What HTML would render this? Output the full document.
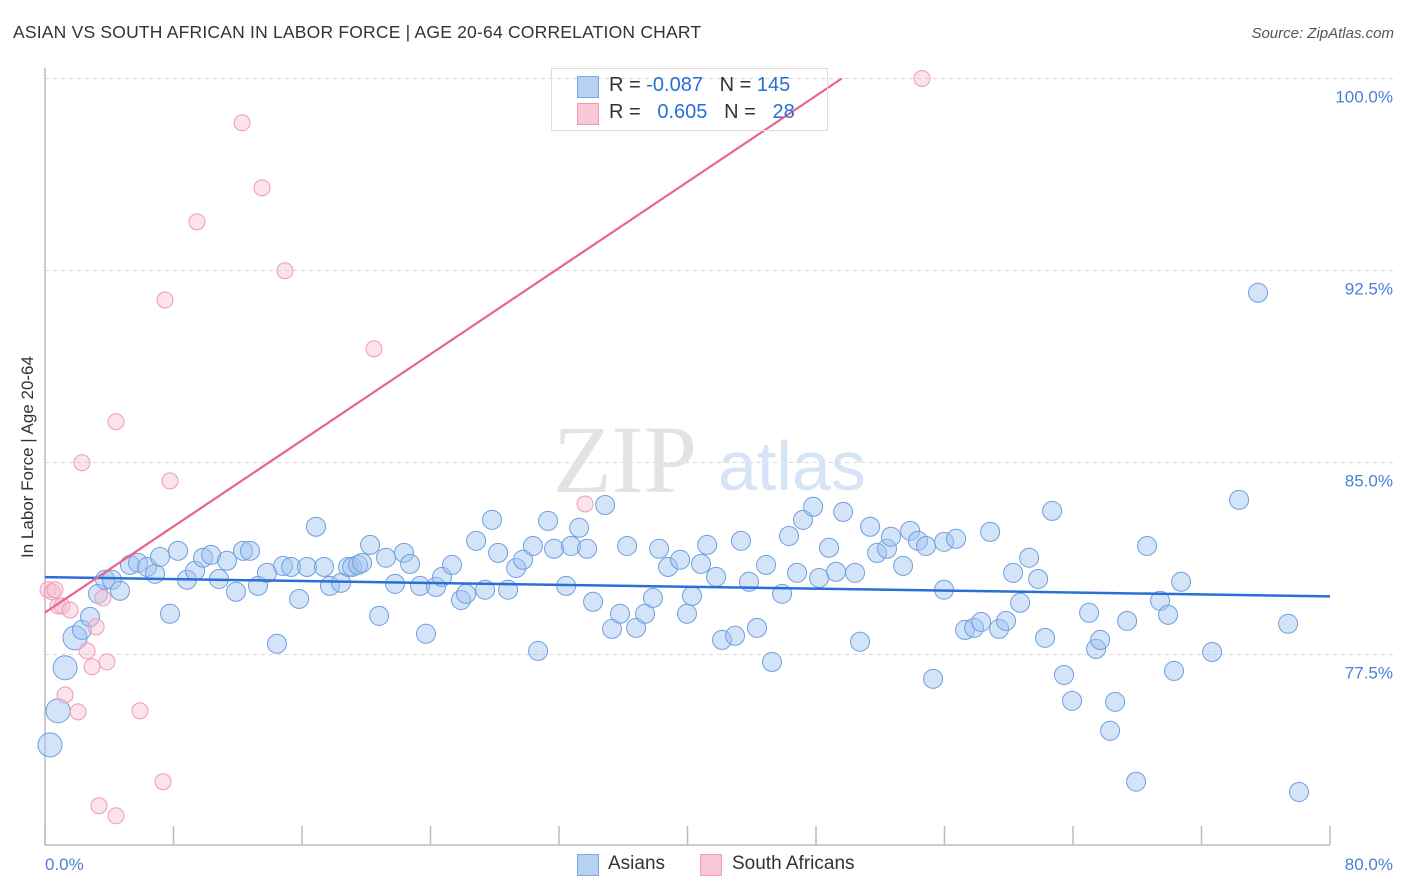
<!DOCTYPE html>
<html><head><meta charset="utf-8">
<style>
body{margin:0;background:#fff;font-family:"Liberation Sans",sans-serif;}
#wrap{position:relative;width:1406px;height:892px;overflow:hidden;}
.t{position:absolute;white-space:nowrap;}
</style></head>
<body>
<div id="wrap">
<div class="t" style="left:13px;top:22px;font-size:17.5px;color:#333;letter-spacing:0.2px">ASIAN VS SOUTH AFRICAN IN LABOR FORCE | AGE 20-64 CORRELATION CHART</div>
<div class="t" style="right:12px;top:25px;font-size:15px;color:#555;font-style:italic">Source: ZipAtlas.com</div>
<div class="t" style="left:28px;top:457px;font-size:17px;color:#333;transform:translate(-50%,-50%) rotate(-90deg)">In Labor Force | Age 20-64</div>
<svg id="chart" width="1406" height="892" style="position:absolute;left:0;top:0"></svg>
</div>
<script>
const xTicks=[0,8,16,24,32,40,48,56,64,72,80];
const yTicks=[77.5,85,92.5,100];
const yTickLabels=["77.5%","85.0%","92.5%","100.0%"];
const asianX=[0.31,0.81,1.25,1.87,2.30,2.80,3.30,3.74,4.17,4.67,5.29,5.79,6.35,6.85,7.16,7.78,8.28,8.84,9.34,9.84,10.34,10.83,11.33,11.89,12.33,12.76,13.26,13.82,14.44,14.82,15.32,15.82,16.31,16.87,17.37,17.74,18.43,18.87,19.12,19.49,19.74,20.24,20.80,21.23,21.79,22.35,22.73,23.35,23.72,24.34,24.72,25.34,25.90,26.21,26.84,27.40,27.83,28.21,28.83,29.33,29.76,30.38,30.70,31.32,31.69,32.44,32.75,33.25,33.75,34.12,34.87,35.30,35.80,36.24,36.80,37.36,37.85,38.23,38.79,39.54,39.97,40.28,40.84,41.22,41.78,42.15,42.96,43.33,43.83,44.33,44.89,45.26,45.89,46.32,46.82,47.19,47.82,48.19,48.81,49.25,49.69,50.43,50.74,51.37,51.80,52.42,52.67,53.42,53.86,54.35,54.85,55.29,55.97,55.97,56.72,57.28,57.84,58.28,58.84,59.40,59.83,60.27,60.71,61.27,61.83,62.26,62.70,63.44,63.94,65.00,65.44,65.69,66.31,66.62,67.37,67.93,68.61,69.42,69.92,70.29,70.73,72.66,74.34,75.52,77.39,78.07];
const asianY=[73.97,75.30,76.98,78.15,78.46,78.97,79.87,80.42,80.42,79.99,81.00,81.08,80.92,80.65,81.31,79.09,81.55,80.42,80.77,81.28,81.39,80.45,81.16,79.95,81.55,81.55,80.18,80.69,77.92,80.96,80.92,79.67,80.92,82.49,80.92,80.18,80.30,80.92,80.92,81.00,81.08,81.78,79.01,81.28,80.26,81.47,81.04,80.18,78.31,80.14,80.53,81.00,79.63,79.87,81.94,80.03,82.76,81.47,80.03,80.88,81.20,81.74,77.64,82.72,81.63,80.18,81.74,82.45,81.63,79.56,83.34,78.50,79.09,81.74,78.54,79.09,79.71,81.63,80.92,81.20,79.09,79.79,81.04,81.78,80.53,78.07,78.23,81.94,80.34,78.54,81.00,77.21,79.87,82.13,80.69,82.76,83.27,80.49,81.67,80.73,83.07,80.69,78.00,82.49,81.47,81.63,82.10,80.96,82.33,81.94,81.74,76.55,80.03,81.90,82.02,78.46,78.54,78.77,82.29,78.50,78.81,80.69,79.52,81.28,80.45,78.15,83.11,76.70,75.69,79.13,77.72,78.07,74.52,75.65,78.81,72.53,81.74,79.60,79.05,76.86,80.34,77.60,83.54,91.63,78.70,72.13];
const safX=[0.19,0.44,0.62,0.81,1.06,1.56,2.30,2.62,2.93,3.18,3.61,3.86,1.25,2.06,3.36,4.42,4.42,5.91,7.35,7.47,7.78,9.46,12.27,13.51,14.94,20.48,33.62,54.60];
const safY=[80.03,79.95,80.03,79.40,79.40,79.24,84.99,77.64,77.02,78.58,79.71,77.21,75.92,75.26,71.59,71.20,86.59,75.30,72.53,91.35,84.28,94.40,98.27,95.73,92.49,89.44,83.38,100.0];

const X0=45,X1=1330,YTOP=78.5;
const sx=v=>X0+(v-0)/(80-0)*(X1-X0);
const sy=v=>YTOP+(100-v)*25.6;
const svg=document.getElementById('chart');
const NS='http://www.w3.org/2000/svg';
function mk(tag,attrs,parent){const e=document.createElementNS(NS,tag);for(const k in attrs)e.setAttribute(k,attrs[k]);(parent||svg).appendChild(e);return e;}

yTicks.forEach((t,i)=>{
  const g=mk('line',{x1:X0,x2:1393,y1:sy(t),y2:sy(t),stroke:'#d8d8d8','stroke-dasharray':'4,4','stroke-width':1});
  
  
  const tx=mk('text',{x:1393,y:sy(t)+24,'text-anchor':'end','font-size':17,fill:'#4a7fd4','font-family':'Liberation Sans, sans-serif'});
  tx.textContent=yTickLabels[i];
  
  
});
const ax=mk('line',{x1:X0,x2:X0,y1:68,y2:845,stroke:'#bbb','stroke-width':1.5});


const bx=mk('line',{x1:X0,x2:X1,y1:845,y2:845,stroke:'#bbb','stroke-width':1.5});


xTicks.forEach(t=>{
  const l=mk('line',{x1:sx(t),x2:sx(t),y1:826,y2:845,stroke:'#bbb','stroke-width':1.5});
  
  
});
const xl0=mk('text',{x:45,y:870,'font-size':17,fill:'#4a7fd4','font-family':'Liberation Sans, sans-serif'});xl0.textContent='0.0%';


const xl1=mk('text',{x:1393,y:870,'text-anchor':'end','font-size':17,fill:'#4a7fd4','font-family':'Liberation Sans, sans-serif'});xl1.textContent='80.0%';



const wm=mk('text',{x:553,y:492,'font-size':96,fill:'#e3e3e3','font-family':'Liberation Serif, serif'});wm.textContent='ZIP';


const wm2=mk('text',{x:718,y:490,'font-size':70,fill:'#d6e4f5','font-family':'Liberation Sans, sans-serif'});wm2.textContent='atlas';



asianX.forEach((x,i)=>{
  const r=x<2?12:9.5;
  const c=mk('circle',{cx:sx(x),cy:sy(asianY[i]),r:r,fill:'rgba(160,196,240,0.45)',stroke:'#6e9fe0','stroke-width':1});
  
  
});
safX.forEach((x,i)=>{
  const c=mk('circle',{cx:sx(x),cy:sy(safY[i]),r:8,fill:'rgba(248,190,208,0.45)',stroke:'#f09ab6','stroke-width':1});
  
  
});

function fit(xs,ys){const n=xs.length;let mx=0,my=0;xs.forEach((v,i)=>{mx+=v;my+=ys[i];});mx/=n;my/=n;let a=0,b=0;xs.forEach((v,i)=>{a+=(v-mx)*(ys[i]-my);b+=(v-mx)*(v-mx);});const s=a/b;return [my-s*mx,s];}
const fa=fit(asianX,asianY);
const tl=mk('line',{x1:sx(0),y1:sy(fa[0]),x2:sx(80),y2:sy(fa[0]+fa[1]*80),stroke:'#2a6fd6','stroke-width':2.5});


const fs=fit(safX,safY);
let xe=80;if(fs[0]+fs[1]*80>100)xe=(100-fs[0])/fs[1];
const tl2=mk('line',{x1:sx(0),y1:sy(fs[0]),x2:sx(xe),y2:sy(fs[0]+fs[1]*xe),stroke:'#e8648f','stroke-width':2.2});


</script>
<div style="position:absolute;left:551px;top:68px;width:275px;height:61px;border:1px solid #ddd;background:transparent;font-size:20px;color:#333">
 <div style="position:absolute;left:25px;top:7px;width:20px;height:20px;background:#b7d1f3;border:1px solid #7fa8e0"></div>
 <div class="t" style="left:57px;top:5px">R = <span style="color:#2a6fd6">-0.087</span>&nbsp;&nbsp;&nbsp;N = <span style="color:#2a6fd6">145</span></div>
 <div style="position:absolute;left:25px;top:34px;width:20px;height:20px;background:#f9c8d7;border:1px solid #f09ab6"></div>
 <div class="t" style="left:57px;top:32px">R = &nbsp;&nbsp;<span style="color:#2a6fd6">0.605</span>&nbsp;&nbsp;&nbsp;N = &nbsp;&nbsp;<span style="color:#2a6fd6">28</span></div>
</div>
<div style="position:absolute;left:577px;top:854px;width:20px;height:20px;background:#b7d1f3;border:1px solid #7fa8e0"></div>
<div class="t" style="left:608px;top:853px;font-size:19px;color:#333">Asians</div>
<div style="position:absolute;left:700px;top:854px;width:20px;height:20px;background:#f9c8d7;border:1px solid #f09ab6"></div>
<div class="t" style="left:732px;top:853px;font-size:19px;color:#333">South Africans</div>
</body></html>
